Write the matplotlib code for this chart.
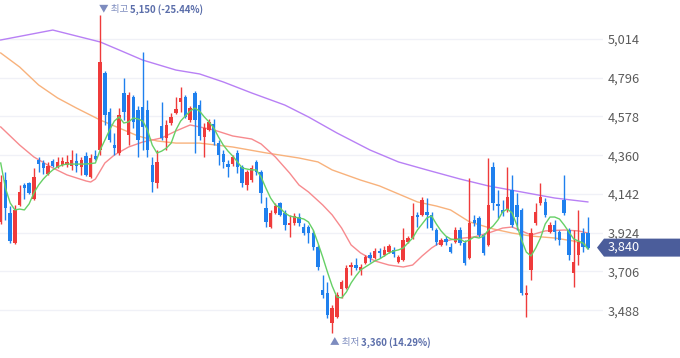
import matplotlib
matplotlib.use('Agg')
import matplotlib.pyplot as plt
from matplotlib.patches import Polygon

plt.rcParams['font.family'] = ['Noto Sans CJK KR', 'DejaVu Sans']

# ---- OHLC data ----
opens = [3985, 4220, 4035, 3865, 4080, 4190, 4205, 4115, 4335, 4315,
         4255, 4325, 4295, 4305, 4305, 4300, 4325, 4295, 4355, 4235,
         4355, 4390, 4820, 4605, 4415, 4370, 4710, 4475, 4685, 4615,
         4630, 4615, 4305, 4205, 4525, 4455, 4540, 4600, 4660, 4685,
         4560, 4710, 4640, 4460, 4500, 4535, 4430, 4365, 4310, 4310,
         4370, 4295, 4190, 4220, 4320, 4265, 4065, 3955, 4035, 4090,
         4035, 3965, 3980, 4010, 3955, 3955, 3920, 3845, 3600, 3585,
         3415, 3450, 3605, 3615, 3730, 3740, 3715, 3755, 3800, 3780,
         3820, 3800, 3815, 3825, 3760, 3770, 3870, 3895, 4025, 4025,
         4040, 4025, 3940, 3855, 3890, 3845, 3870, 3940, 3865, 3780,
         3995, 4005, 3910, 3855, 4295, 4085, 4050, 4050, 4165, 4080,
         4050, 3575, 3715, 3980, 4090, 4095, 3930, 3965, 3930, 4110,
         3940, 3695, 3800, 3920, 3925]
highs = [4250, 4265, 4075, 4080, 4190, 4205, 4210, 4290, 4350, 4335,
         4320, 4340, 4350, 4350, 4360, 4390, 4370, 4350, 4380, 4365,
         4390, 5150, 4835, 4625, 4485, 4625, 4795, 4715, 4700, 4635,
         4940, 4670, 4350, 4390, 4660, 4560, 4600, 4685, 4745, 4700,
         4635, 4720, 4670, 4540, 4565, 4565, 4445, 4390, 4335, 4360,
         4390, 4305, 4275, 4305, 4335, 4275, 4125, 4050, 4090, 4095,
         4050, 4025, 4035, 4035, 3980, 3965, 3940, 3855, 3685, 3645,
         3515, 3590, 3660, 3740, 3760, 3780, 3750, 3800, 3815, 3840,
         3840, 3850, 3860, 3845, 3800, 3950, 3905, 4090, 4040, 4125,
         4120, 4040, 3950, 3895, 3905, 3865, 3955, 3955, 3885, 4230,
         4025, 4020, 3920, 4345, 4320, 4165, 4110, 4295, 4250, 4145,
         4065, 3630, 3950, 4090, 4205, 4120, 3985, 3995, 3940, 4250,
         3950, 3940, 4050, 3950, 4010]
lows = [3975, 3995, 3865, 3860, 4075, 4115, 4140, 4110, 4265, 4255,
        4250, 4295, 4290, 4300, 4295, 4275, 4265, 4250, 4245, 4230,
        4335, 4360, 4530, 4435, 4360, 4360, 4560, 4415, 4515, 4350,
        4390, 4350, 4155, 4175, 4445, 4390, 4530, 4590, 4605, 4570,
        4545, 4370, 4445, 4350, 4495, 4415, 4305, 4290, 4235, 4300,
        4260, 4180, 4165, 4210, 4250, 4090, 3955, 3950, 4030, 4020,
        3940, 3900, 3965, 3960, 3910, 3865, 3825, 3715, 3555, 3445,
        3360, 3445, 3555, 3605, 3685, 3715, 3685, 3750, 3760, 3775,
        3780, 3795, 3810, 3785, 3755, 3765, 3865, 3890, 3955, 4020,
        3950, 3940, 3855, 3850, 3855, 3810, 3865, 3855, 3740, 3775,
        3960, 3900, 3800, 3850, 4050, 4005, 4020, 4040, 3955, 3940,
        3575, 3450, 3660, 3965, 4080, 4010, 3920, 3885, 3855, 4025,
        3770, 3620, 3740, 3815, 3830]
closes = [4210, 4065, 3875, 4050, 4155, 4175, 4145, 4235, 4310, 4290,
          4300, 4300, 4320, 4325, 4320, 4335, 4300, 4335, 4250, 4345,
          4340, 4885, 4585, 4445, 4400, 4585, 4605, 4700, 4545, 4445,
          4520, 4390, 4210, 4320, 4455, 4530, 4575, 4620, 4680, 4575,
          4625, 4560, 4470, 4515, 4545, 4435, 4360, 4320, 4295, 4350,
          4295, 4205, 4265, 4290, 4265, 4145, 3985, 4035, 4075, 4025,
          3965, 3980, 4020, 3980, 3920, 3920, 3845, 3730, 3575, 3460,
          3500, 3575, 3645, 3725, 3740, 3725, 3730, 3785, 3780, 3820,
          3810, 3825, 3850, 3805, 3785, 3885, 3895, 4020, 4010, 4110,
          4025, 3950, 3870, 3885, 3870, 3815, 3940, 3865, 3755, 3980,
          3980, 3910, 3810, 4080, 4090, 4075, 4035, 4125, 3965, 4010,
          3585, 3585, 3920, 4040, 4125, 4025, 3965, 3930, 3885, 4035,
          3800, 3760, 3870, 3845, 3840]

# ---- moving average lines ----
ma5 = [4316, 4175, 4091, 4052, 4057, 4052, 4086, 4147, 4192, 4226,
       4254, 4277, 4294, 4305, 4310, 4310, 4310, 4310, 4310, 4313,
       4316, 4389, 4445, 4502, 4552, 4575, 4541, 4547, 4569, 4564,
       4552, 4502, 4417, 4372, 4383, 4400, 4428, 4502, 4552, 4581,
       4608, 4625, 4608, 4575, 4547, 4513, 4462, 4417, 4383, 4355,
       4322, 4288, 4282, 4277, 4277, 4237, 4175, 4119, 4080, 4063,
       4035, 4018, 4012, 4007, 4001, 3984, 3939, 3866, 3787, 3703,
       3624, 3562, 3557, 3590, 3641, 3680, 3714, 3731, 3748, 3765,
       3776, 3793, 3810, 3821, 3827, 3838, 3866, 3894, 3939, 3973,
       4007, 4018, 3973, 3934, 3905, 3889, 3883, 3889, 3872, 3883,
       3900, 3894, 3905, 3939, 3962, 3995, 4041, 4057, 4035, 3967,
       3883, 3815, 3793, 3838, 3894, 3973, 4012, 4012, 4001, 3967,
       3928, 3889, 3877, 3866, 3832]
ma20_idx = [0, 4, 7, 11, 14, 18, 19, 20, 21, 22, 24, 27, 30, 34, 37, 40, 42,
            45, 49, 53, 55, 58, 61, 63, 65, 68, 70, 72, 74, 76, 79, 82, 85,
            87, 89, 91, 93, 96, 100, 103, 106, 108, 110, 112, 115, 119, 122, 124]
ma20_val = [4519, 4417, 4350, 4288, 4249, 4215, 4209, 4226, 4271, 4316, 4361,
            4406, 4434, 4457, 4496, 4530, 4519, 4502, 4468, 4451, 4423, 4350,
            4260, 4192, 4153, 4080, 4024, 3950, 3855, 3810, 3765, 3742, 3731,
            3742, 3793, 3838, 3872, 3889, 3900, 3922, 3950, 3956, 3934, 3911,
            3934, 3939, 3934, 3922]
ma60_idx = [0, 4, 8, 12, 16, 21, 25, 29, 33, 37, 42, 49, 56, 63, 67, 70, 76,
            80, 84, 88, 92, 95, 99, 104, 108, 112, 117, 121, 124]
ma60_val = [4935, 4856, 4755, 4682, 4625, 4558, 4513, 4468, 4440, 4428, 4428,
            4406, 4373, 4344, 4322, 4277, 4220, 4187, 4142, 4097, 4074, 4052,
            3985, 3945, 3922, 3905, 3894, 3877, 3855]
ma120_idx = [0, 11, 21, 25, 30, 37, 42, 47, 53, 60, 65, 71, 78, 84, 90, 97,
             103, 110, 117, 124]
ma120_val = [5008, 5064, 4997, 4952, 4895, 4839, 4817, 4772, 4710, 4642, 4575,
             4485, 4389, 4322, 4277, 4226, 4187, 4153, 4119, 4097]

yticks = [3488, 3706, 3924, 4142, 4360, 4578, 4796, 5014]

UP = '#ef3b3b'
DOWN = '#1f80ee'

W, H = 680, 358
fig = plt.figure(figsize=(W / 100, H / 100), dpi=100)
ax_right = 603
ax = fig.add_axes([0, 0, ax_right / W, 1])
ax.set_xlim(-0.15, 127.2)
ax.set_ylim(3219, 5233)

for s in ax.spines.values():
    s.set_visible(False)
ax.set_xticks([])
ax.set_yticks(yticks)
ax.set_yticklabels([f'{v:,}' for v in yticks])
ax.yaxis.tick_right()
ax.tick_params(axis='y', length=0, pad=3.6, labelsize=9.2, labelcolor='#5a5a5a')
ax.grid(axis='y', color='#f0f1f7', lw=1.0)
ax.set_axisbelow(True)

# MA lines
ax.plot(ma120_idx, ma120_val, color='#b880f5', lw=1.0, zorder=2)
ax.plot(ma60_idx, ma60_val, color='#f8b27c', lw=1.0, zorder=2)
ax.plot(ma20_idx, ma20_val, color='#f78a8e', lw=1.0, zorder=2)

# candles
n = len(closes)
xs = list(range(n))
cols = [UP if c >= o else DOWN for o, c in zip(opens, closes)]
ax.vlines(xs, lows, highs, colors=cols, lw=1.0, zorder=3)
bottoms = [min(o, c) for o, c in zip(opens, closes)]
heights = [max(abs(c - o), 6) for o, c in zip(opens, closes)]
ax.bar(xs, heights, bottom=bottoms, width=0.72, color=cols, lw=0, zorder=4)

ax.plot(range(len(ma5)), ma5, color='#66d066', lw=1.0, zorder=5)

# high / low annotations
ih = max(range(n), key=lambda i: highs[i])
il = min(range(n), key=lambda i: lows[i])
last = closes[-1]
hi, lo = highs[ih], lows[il]
ACC = '#7d8cbf'
NUM = '#5b6eaa'
FS = 6.9
t1 = ax.annotate('▼ 최고 ', xy=(ih, hi), xytext=(-1.0, 3.8), textcoords='offset points',
                 ha='left', va='center', fontsize=FS, color=ACC, zorder=6)
ax.annotate(f'{hi:,} ({(last - hi) / hi * 100:.2f}%)', xy=(1, 0.5), xycoords=t1,
            ha='left', va='center', fontsize=FS, color=NUM, fontweight='bold')
t2 = ax.annotate('▲ 최저 ', xy=(il, lo), xytext=(-1.6, -7.0), textcoords='offset points',
                 ha='left', va='center', fontsize=FS, color=ACC, zorder=6)
ax.annotate(f'{lo:,} ({(last - lo) / lo * 100:.2f}%)', xy=(1, 0.5), xycoords=t2,
            ha='left', va='center', fontsize=FS, color=NUM, fontweight='bold')

# current price tag
yd = ax.transData.transform((0, last))[1]
h2 = 9.0
tip = ax_right - 6
body = ax_right + 1
poly = Polygon([(tip, yd), (body, yd + h2), (W, yd + h2), (W, yd - h2), (body, yd - h2)],
               closed=True, transform=None, facecolor='#4b5d9b', edgecolor='none', zorder=10)
fig.add_artist(poly)
fig.text((ax_right + 5) / W, yd / H, f'{last:,}', ha='left', va='center',
         fontsize=9.2, color='white', zorder=11)

fig.savefig('out.png', dpi=100)
